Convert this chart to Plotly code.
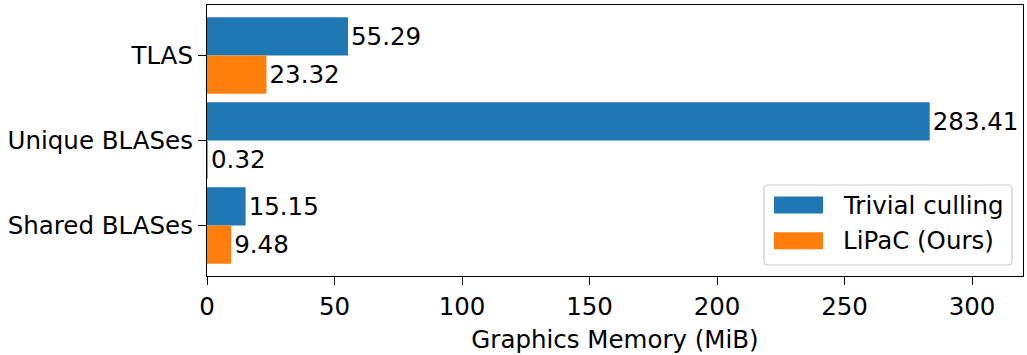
import plotly.graph_objects as go

categories = ["TLAS", "Unique BLASes", "Shared BLASes"]
trivial = [55.29, 283.41, 15.15]
lipac = [23.32, 0.32, 9.48]
series_names = ["Trivial culling", "LiPaC (Ours)"]
colors = ["#1f77b4", "#ff7f0e"]
x_ticks = [0, 50, 100, 150, 200, 250, 300]

W, H = 1027, 355
L, R, T, B = 207, 1023, 5, 276
FONT = dict(family="DejaVu Sans", size=24.5, color="black")

fig = go.Figure()
for name, vals, col in zip(series_names, [trivial, lipac], colors):
    fig.add_trace(go.Bar(
        y=categories, x=vals, orientation="h", name=name,
        marker=dict(color=col, line=dict(width=0)),
        text=[f"{v:.2f}" for v in vals], textposition="outside",
        textfont=FONT, cliponaxis=False, constraintext="none",
        showlegend=False,
    ))

def px(x):
    return (x - L) / (R - L)

def py(y):
    return (B - y) / (B - T)

# custom legend (matplotlib-like)
bx0, bx1, by0, by1, r = 764, 1012, 185, 265, 4
path = (f"M{px(bx0+r)},{py(by0)} L{px(bx1-r)},{py(by0)} Q{px(bx1)},{py(by0)} {px(bx1)},{py(by0+r)} "
        f"L{px(bx1)},{py(by1-r)} Q{px(bx1)},{py(by1)} {px(bx1-r)},{py(by1)} "
        f"L{px(bx0+r)},{py(by1)} Q{px(bx0)},{py(by1)} {px(bx0)},{py(by1-r)} "
        f"L{px(bx0)},{py(by0+r)} Q{px(bx0)},{py(by0)} {px(bx0+r)},{py(by0)} Z")
shapes = [dict(type="path", xref="paper", yref="paper", path=path,
               fillcolor="rgba(255,255,255,0.8)", line=dict(color="#cccccc", width=1.2))]
annotations = []
for i, (name, col) in enumerate(zip(series_names, colors)):
    cy = 205 + i * 35.7
    shapes.append(dict(type="rect", xref="paper", yref="paper",
                       x0=px(774), x1=px(823), y0=py(cy - 8.5), y1=py(cy + 8.5),
                       fillcolor=col, line=dict(width=0)))
    annotations.append(dict(xref="paper", yref="paper", x=px(841), y=py(cy),
                            text=name, showarrow=False, xanchor="left", yanchor="middle",
                            font=FONT))

fig.update_layout(
    width=W, height=H,
    margin=dict(l=L, r=W - R, t=T, b=H - B),
    plot_bgcolor="white", paper_bgcolor="white",
    barmode="group", bargap=0.1, bargroupgap=0,
    font=FONT,
    shapes=shapes, annotations=annotations,
    xaxis=dict(range=[0, 320], tickvals=x_ticks, ticks="outside", ticklen=8, tickwidth=1.3,
               tickcolor="black", showline=True, linecolor="black", linewidth=1.3, mirror=True,
               showgrid=False, zeroline=False, tickfont=FONT,
               title=dict(text="Graphics Memory (MiB)", font=FONT, standoff=11)),
    yaxis=dict(range=[2.595, -0.595], ticks="outside", ticklen=8, tickwidth=1.3,
               tickcolor="black", showline=True, linecolor="black", linewidth=1.3, mirror=True,
               showgrid=False, zeroline=False, tickfont=FONT),
)

fig.write_html("out.html")
